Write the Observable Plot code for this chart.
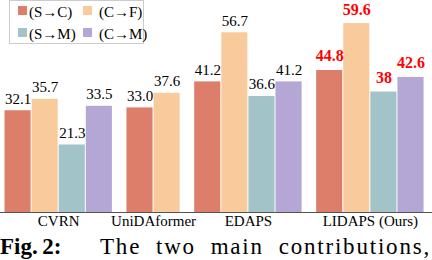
<!DOCTYPE html>
<html><head><meta charset="utf-8">
<script src="https://cdn.jsdelivr.net/npm/d3@7"></script>
<script src="https://cdn.jsdelivr.net/npm/@observablehq/plot@0.6"></script>
<style>
body{margin:0;background:#fff;}
#wrap{position:relative;width:432px;height:260px;overflow:hidden;background:#fff;}
#wrap svg text{font-family:"Liberation Serif",serif;}
#legend{position:absolute;left:9px;top:0px;width:133px;height:42px;border:1px solid #cccccc;background:rgba(255,255,255,0.85);font-family:"Liberation Serif",serif;font-size:15px;line-height:15px;color:#000;}
.sw{position:absolute;width:9px;height:9px;}
.lt{position:absolute;white-space:nowrap;}
#cap1{position:absolute;left:0;top:236px;font-family:"Liberation Serif",serif;font-weight:bold;font-size:23px;line-height:22px;white-space:nowrap;}
#cap2{position:absolute;left:100px;top:236px;width:331px;font-family:"Liberation Serif",serif;font-size:23px;line-height:22px;letter-spacing:1.8px;text-align:justify;text-align-last:justify;white-space:nowrap;}
</style></head><body>
<div id="wrap"></div>
<script>
// ---- data ----
const methods = ["CVRN", "UniDAformer", "EDAPS", "LIDAPS (Ours)"];
const settings = ["(S→C)", "(C→F)", "(S→M)", "(C→M)"];
const colors = ["#dd7e6b", "#f9cb9c", "#a2c4c9", "#b4a7d6"];
const cvrn = [32.1, 35.7, 21.3, 33.5];
const unidaformer = [33.0, 37.6, null, null];
const edaps = [41.2, 56.7, 36.6, 41.2];
const lidaps = [44.8, 59.6, 38, 42.6];
const cvrnLabels = ["32.1", "35.7", "21.3", "33.5"];
const unidaformerLabels = ["33.0", "37.6", null, null];
const edapsLabels = ["41.2", "56.7", "36.6", "41.2"];
const lidapsLabels = ["44.8", "59.6", "38", "42.6"];
const oursMethod = "LIDAPS (Ours)";

const seriesByMethod = [cvrn, unidaformer, edaps, lidaps];
const labelsByMethod = [cvrnLabels, unidaformerLabels, edapsLabels, lidapsLabels];

// ---- layout slots (one slot per present bar, half-slot gap between groups) ----
const rows = [];
const centers = [];
let cursor = 0;
methods.forEach((m, gi) => {
  let n = 0;
  seriesByMethod[gi].forEach((v, si) => {
    if (v == null) return;
    rows.push({method: m, series: settings[si], v, label: labelsByMethod[gi][si], p: cursor + n, ours: m === oursMethod});
    n++;
  });
  centers.push(cursor + n / 2);
  cursor += n + 0.5;
});
const nameByCenter = new Map(centers.map((c, i) => [c, methods[i]]));

const FONT = "Liberation Serif";
const slot = 27.1, x0 = 4, W = 432, H = 232, base = 212, pxPerUnit = 3.17;

const chart = Plot.plot({
  width: W,
  height: H,
  marginLeft: 0, marginRight: 0, marginTop: 0, marginBottom: H - base,
  style: {fontFamily: FONT, fontSize: "15px", color: "#000", background: "transparent"},
  x: {type: "linear", domain: [-x0 / slot, (W - x0) / slot], axis: null, label: null},
  y: {domain: [0, base / pxPerUnit], axis: null, label: null},
  color: {domain: settings, range: colors},
  marks: [
    Plot.rectY(rows, {x1: "p", x2: d => d.p + 1, y1: 0, y2: "v", fill: "series", insetLeft: 0.5, insetRight: 0.5}),
    Plot.ruleY([0], {stroke: "#555", strokeWidth: 1}),
    Plot.axisX(centers, {tickSize: 0, tickPadding: 3, label: null, tickFormat: d => nameByCenter.get(d), fontSize: 15, fontFamily: FONT, fill: "#000"}),
    Plot.text(rows.filter(d => !d.ours), {x: d => d.p + 0.5, y: "v", text: "label", lineAnchor: "bottom", dy: -7, fill: "#000", fontSize: 15, fontFamily: FONT}),
    Plot.text(rows.filter(d => d.ours), {x: d => d.p + 0.5, y: "v", text: "label", lineAnchor: "bottom", dy: -9, fill: "#ff0000", fontSize: 16, fontWeight: "bold", fontFamily: FONT})
  ]
});

const wrap = document.getElementById("wrap");
wrap.appendChild(chart);
chart.style.position = "absolute";
chart.style.left = "0px";
chart.style.top = "0px";

// ---- legend (overlaid, top-left, 2 columns) ----
const legend = document.createElement("div");
legend.id = "legend";
const colSw = [8, 73], colTx = [19, 89], rowSw = [5, 27], rowTx = [3.5, 25.5];
settings.forEach((s, i) => {
  const r = Math.floor(i / 2), c = i % 2;
  const sw = document.createElement("div");
  sw.className = "sw";
  sw.style.left = colSw[c] + "px";
  sw.style.top = rowSw[r] + "px";
  sw.style.background = colors[i];
  const t = document.createElement("div");
  t.className = "lt";
  t.style.left = colTx[c] + "px";
  t.style.top = rowTx[r] + "px";
  t.textContent = s;
  legend.appendChild(sw);
  legend.appendChild(t);
});
wrap.appendChild(legend);

// ---- caption ----
const cap1 = document.createElement("div");
cap1.id = "cap1";
cap1.textContent = "Fig.\u20092:";
const cap2 = document.createElement("div");
cap2.id = "cap2";
cap2.textContent = "The two main contributions,";
wrap.appendChild(cap1);
wrap.appendChild(cap2);
</script>
</body></html>
